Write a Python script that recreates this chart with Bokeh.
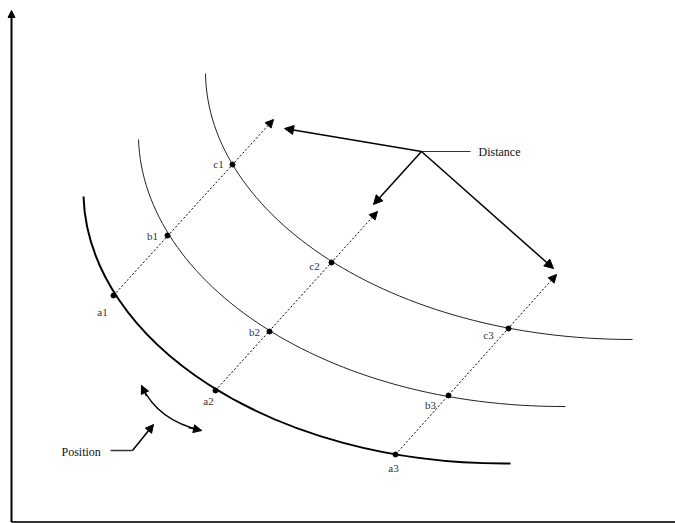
from bokeh.plotting import figure
from bokeh.models import Range1d, Arrow, NormalHead, ColumnDataSource
from bokeh.core.properties import value
from bokeh.embed import file_html
from bokeh.resources import INLINE

# ---- diagram data (reference pixel coordinates) ----
# three position curves (cubic bezier: start, control 1, control 2, end)
curve_names = ["a", "b", "c"]
curve_x0 = [83, 138, 205]
curve_y0 = [196, 139, 73]
curve_cx0 = [88, 143, 207]
curve_cy0 = [340, 282, 214]
curve_cx1 = [270, 325, 389]
curve_cy1 = [465, 407, 339]
curve_x1 = [510, 565, 632]
curve_y1 = [463, 406, 339]
curve_widths = [2.0, 1.0, 1.0]

# points on the curves
a_x = [113, 215, 395]
a_y = [295, 390, 454]
b_x = [167, 269, 448]
b_y = [235, 331, 395]
c_x = [232, 331, 508]
c_y = [164, 262, 328]
# tips of the dotted distance arrows
tip_x = [273, 377, 556]
tip_y = [119, 211, 274]

pt_labels = ["a1", "a2", "a3", "b1", "b2", "b3", "c1", "c2", "c3"]
label_x = [102, 208, 393, 152, 254, 430, 218, 314, 488]
label_y = [311, 400, 467, 235, 331, 404, 163, 265, 334]

# "Distance" callout
dist_hub = (421, 151)
dist_tx = [284, 373, 553]
dist_ty = [128, 204, 268]
dist_leader_end = (470, 151)
dist_text_pos = (478, 151)

# "Position" callout
pos_text_pos = (61, 451)
pos_leader_x = [110, 132]
pos_leader_y = [450, 450]
pos_arrow_tip = (153, 424)
# curved double arrow (quadratic bezier)
pos_curve = dict(x0=141, y0=385, cx=157, cy=420, x1=201, y1=430)
pos_head_from = [(146, 395.5), (188, 427)]
pos_head_to = [(141, 385), (201, 430)]

# axes
axis_origin = (11, 521.5)
yaxis_top = 10
xaxis_right = 675

SERIF = value("Liberation Serif")

p = figure(width=675, height=523, x_range=Range1d(0, 675), y_range=Range1d(523, 0),
           output_backend="svg", toolbar_location=None, min_border=0,
           x_axis_type=None, y_axis_type=None)
p.grid.visible = False
p.outline_line_color = None
p.background_fill_color = "white"
p.border_fill_color = "white"

# axes
p.line([axis_origin[0], xaxis_right], [axis_origin[1], axis_origin[1]], line_color="#333333", line_width=2)
p.add_layout(Arrow(end=NormalHead(size=7, fill_color="black", line_color="black"),
                   x_start=axis_origin[0], y_start=axis_origin[1], x_end=axis_origin[0], y_end=yaxis_top,
                   line_color="black", line_width=2))

# curves
for i in range(3):
    p.bezier(x0=[curve_x0[i]], y0=[curve_y0[i]], x1=[curve_x1[i]], y1=[curve_y1[i]],
             cx0=[curve_cx0[i]], cy0=[curve_cy0[i]], cx1=[curve_cx1[i]], cy1=[curve_cy1[i]],
             line_color="black" if i == 0 else "#222222", line_width=curve_widths[i])

# dotted arrows
dsrc = ColumnDataSource(dict(x0=a_x, y0=a_y, x1=tip_x, y1=tip_y))
p.add_layout(Arrow(end=NormalHead(size=8, fill_color="black", line_color="black"),
                   x_start="x0", y_start="y0", x_end="x1", y_end="y1", source=dsrc,
                   line_color="black", line_width=1, line_dash="2 2"))

# points
p.scatter(a_x + b_x + c_x, a_y + b_y + c_y, size=5, color="black")
p.text(label_x, label_y, text=pt_labels, text_font=SERIF, text_font_size="11px",
       text_align="center", text_baseline="middle", text_color="#333333")

# Distance callout
hsrc = ColumnDataSource(dict(x0=[dist_hub[0]] * 3, y0=[dist_hub[1]] * 3, x1=dist_tx, y1=dist_ty))
p.add_layout(Arrow(end=NormalHead(size=9, fill_color="black", line_color="black"),
                   x_start="x0", y_start="y0", x_end="x1", y_end="y1", source=hsrc,
                   line_color="black", line_width=1.5))
p.line([dist_hub[0], dist_leader_end[0]], [dist_hub[1], dist_leader_end[1]], line_color="#333333", line_width=1)
p.text([dist_text_pos[0]], [dist_text_pos[1]], text=["Distance"], text_font=SERIF, text_font_size="12px",
       text_align="left", text_baseline="middle", text_color="#111111")

# Position callout
p.text([pos_text_pos[0]], [pos_text_pos[1]], text=["Position"], text_font=SERIF, text_font_size="12px",
       text_align="left", text_baseline="middle", text_color="#111111")
p.line(pos_leader_x, pos_leader_y, line_color="#333333", line_width=1.5)
p.add_layout(Arrow(end=NormalHead(size=8, fill_color="black", line_color="black"),
                   x_start=pos_leader_x[-1], y_start=pos_leader_y[-1], x_end=pos_arrow_tip[0], y_end=pos_arrow_tip[1],
                   line_color="black", line_width=1.5))
p.quadratic(x0=[pos_curve["x0"]], y0=[pos_curve["y0"]], x1=[pos_curve["x1"]], y1=[pos_curve["y1"]],
            cx=[pos_curve["cx"]], cy=[pos_curve["cy"]], line_color="black", line_width=1.5)
psrc = ColumnDataSource(dict(x0=[f[0] for f in pos_head_from], y0=[f[1] for f in pos_head_from],
                             x1=[t[0] for t in pos_head_to], y1=[t[1] for t in pos_head_to]))
p.add_layout(Arrow(end=NormalHead(size=8, fill_color="black", line_color="black"),
                   x_start="x0", y_start="y0", x_end="x1", y_end="y1", source=psrc,
                   line_color="black", line_width=1.5))

open("out.html", "w").write(file_html(p, INLINE))
